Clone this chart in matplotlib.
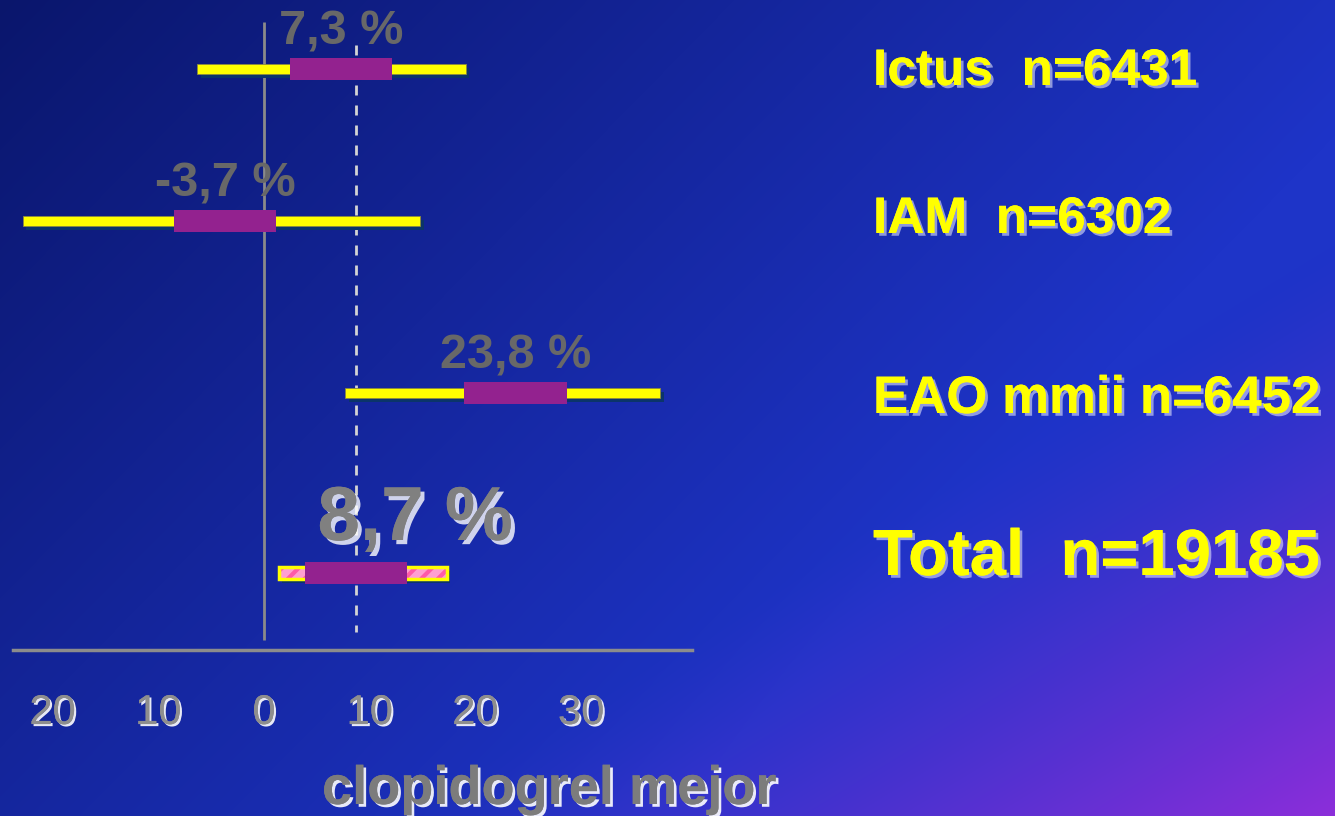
import matplotlib
matplotlib.use("Agg")
import matplotlib.pyplot as plt
import matplotlib.patheffects as pe
import numpy as np

# Relative risk reduction (%) with 95% CI, per subgroup
categories = ["Ictus", "IAM", "EAO mmii", "Total"]
n_patients = [6431, 6302, 6452, 19185]
rrr = [7.3, -3.7, 23.8, 8.7]
ci_low = [-6.3, -22.8, 7.7, 1.4]
ci_high = [19.1, 14.8, 37.5, 17.3]

tick_vals = [-20, -10, 0, 10, 20, 30]
tick_text = ["20", "10", "0", "10", "20", "30"]
xlabel = "clopidogrel mejor"

W, H = 1335, 816
BOLD = ["Liberation Sans", "DejaVu Sans"]
NARROW = ["Liberation Sans Narrow", "Liberation Sans", "DejaVu Sans"]

# row layout (pixel rows from top of the plot area)
row_y = [69, 221, 393, 573]
label_y = [85, 233, 413, 575]
label_size = [37, 37, 38, 47]


def fx(px):
    return px / W


def fy(py):
    return 1 - py / H


def background():
    u = np.linspace(0, 1, W)[None, :]
    v = np.linspace(0, 1, H)[:, None]
    navy = np.array([0x0a, 0x16, 0x6c]) / 255
    blue = np.array([0x1e, 0x34, 0xc8]) / 255
    violet = np.array([0x8c, 0x2e, 0xda]) / 255
    d = np.clip((u + 0.6 * v) / 1.1, 0, 1)[..., None]
    img = navy + (blue - navy) * d
    w = np.clip((u + v - 1.3) / 0.7, 0, 1)[..., None] ** 1.3
    img = img * (1 - w) + violet * w
    return img


fig = plt.figure(figsize=(W / 100, H / 100), dpi=100)
bg = fig.add_axes([0, 0, 1, 1], zorder=0)
bg.imshow(background(), aspect="auto", extent=(0, 1, 0, 1))
bg.set_axis_off()

# plot area: x from 13 to 692 px, y from top down to the axis line at 650 px
x0, x1, zero_px, scale = 13, 692, 264, 10.57
ax = fig.add_axes([fx(x0), fy(650), (x1 - x0) / W, 650 / H], zorder=1)
ax.set_facecolor("none")
ax.set_xlim((x0 - zero_px) / scale, (x1 - zero_px) / scale)
ax.set_ylim(650, 0)
for s in ["top", "left", "right"]:
    ax.spines[s].set_visible(False)
ax.spines["bottom"].set_color("#8c8c8c")
ax.spines["bottom"].set_linewidth(2.5)
ax.set_yticks([])
ax.set_xticks(tick_vals, labels=tick_text)
ax.tick_params(axis="x", length=0, pad=31, labelsize=30, labelcolor="#8e8e8e")
for t in ax.get_xticklabels():
    t.set_family(NARROW)
    t.set_path_effects([pe.withSimplePatchShadow(offset=(1.5, -1.5), shadow_rgbFace="white", alpha=0.9),
                        pe.Normal()])

# reference lines: no effect and overall estimate
ax.vlines(0, 22, 640, color="#8a8a8a", lw=2, zorder=1)
ax.vlines(rrr[-1], 45, 632, color="#d4d4d4", lw=2, linestyles=(0, (3.6, 3.6)), zorder=1)

box_w = 9.7
plt.rcParams["hatch.linewidth"] = 3
for i, (cat, est, lo, hi) in enumerate(zip(categories, rrr, ci_low, ci_high)):
    y = row_y[i]
    total = cat == "Total"
    bh = 12 if total else 10
    # drop shadow under the CI bar
    ax.barh(y + 4, hi - lo, left=lo + 0.3, height=bh, color="#0b346a", zorder=2)
    if total:
        ax.barh(y, hi - lo, left=lo, height=bh, color="#ff9fd0", edgecolor="#ff5aa8",
                hatch="//", linewidth=0, zorder=3)
        ax.barh(y, hi - lo, left=lo, height=bh, fill=False, edgecolor="#ffff00",
                linewidth=2.5, zorder=3)
    else:
        ax.barh(y, hi - lo, left=lo, height=bh, color="#ffff00", edgecolor="#8a8a40",
                linewidth=0.6, zorder=3)
    ax.barh(y, box_w, left=est - box_w / 2, height=22, color="#93228f", zorder=4)

    txt = f"{est:.1f}".replace(".", ",") + " %"
    if total:
        ax.text(est + 5.6, y - 33, txt, ha="center", va="baseline", fontsize=55,
                fontweight="bold", family=BOLD, color="#808080", zorder=5,
                path_effects=[pe.withSimplePatchShadow(offset=(3, -3), shadow_rgbFace="white", alpha=0.8),
                              pe.Normal()])
    else:
        ax.text(est, y - 25, txt, ha="center", va="baseline", fontsize=35,
                fontweight="bold", family=BOLD, color="#686868", zorder=5)

    name = f"{cat} n={n_patients[i]}" if cat == "EAO mmii" else f"{cat}  n={n_patients[i]}"
    fig.text(fx(873), fy(label_y[i]), name, ha="left", va="baseline",
             fontsize=label_size[i], fontweight="bold", family=BOLD, color="#ffff00",
             path_effects=[pe.withSimplePatchShadow(offset=(2, -2), shadow_rgbFace="#f0f0ff", alpha=0.55),
                           pe.Normal()])

fig.text(fx(549), fy(804), xlabel, ha="center", va="baseline", fontsize=39,
         fontweight="bold", family=BOLD, color="#7c7c7c",
         path_effects=[pe.withSimplePatchShadow(offset=(2, -2), shadow_rgbFace="white", alpha=0.9),
                       pe.Normal()])

fig.savefig("out.png", dpi=100)
plt.close(fig)
